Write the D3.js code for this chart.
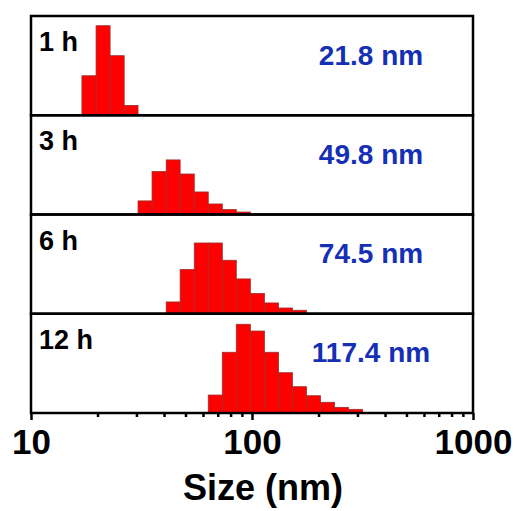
<!DOCTYPE html>
<html>
<head>
<meta charset="utf-8">
<script src="https://cdn.jsdelivr.net/npm/d3@7"></script>
<style>
  body { margin: 0; background: #fff; }
  svg { font-family: "Liberation Sans", Arial, sans-serif; font-weight: bold; }
</style>
</head>
<body>
<svg width="517" height="511"></svg>
<script>
// shared log-spaced bin edges (nm)
var binEdges = [17.0, 19.7, 22.8, 26.4, 30.5, 35.3, 40.9, 47.3, 54.8, 63.4,
                73.4, 84.9, 98.3, 113.8, 131.7, 152.4, 176.4, 204.2, 236.3, 273.5, 316.5];

var labels = ["1 h", "3 h", "6 h", "12 h"];
var sizes = ["21.8 nm", "49.8 nm", "74.5 nm", "117.4 nm"];
// index of the first filled bin for each panel
var firstBin = [0, 4, 6, 9];
// relative intensity per bin (%)
var counts1h = [39.8, 90.2, 60.0, 9.9];
var counts3h = [13.7, 43.3, 55.0, 40.8, 22.7, 10.6, 5.0, 2.5];
var counts6h = [11.9, 44.5, 71.3, 71.3, 53.9, 35.1, 20.4, 10.9, 5.8, 3.5];
var counts12h = [18.1, 61.2, 89.4, 82.6, 61.2, 40.6, 26.5, 17.4, 10.8, 5.7, 3.7];
var series = [counts1h, counts3h, counts6h, counts12h];

var majorTicks = [10, 100, 1000];
var minorTicks = [20, 30, 40, 50, 60, 70, 80, 90, 200, 300, 400, 500, 600, 700, 800, 900];

var svg = d3.select("svg"),
    plotLeft = 31, plotRight = 473, plotTop = 16, plotBottom = 413;

var x = d3.scaleLog().domain([10, 1000]).range([plotLeft, plotRight]);
var band = d3.scaleBand().domain(labels).range([plotTop, plotBottom]).padding(0);
var ph = band.bandwidth();

labels.forEach(function(lab, i) {
    var y0 = band(lab);
    var y = d3.scaleLinear().domain([0, 100]).range([y0 + ph, y0]);
    var g = svg.append("g");

    var bins = series[i].map(function(v, j) {
        var k = firstBin[i] + j;
        return { x0: binEdges[k], x1: binEdges[k + 1], v: v };
    });

    g.selectAll("rect.bar")
        .data(bins)
        .enter().append("rect")
        .attr("class", "bar")
        .attr("x", function(d) { return x(d.x0); })
        .attr("width", function(d) { return x(d.x1) - x(d.x0); })
        .attr("y", function(d) { return y(d.v); })
        .attr("height", function(d) { return y(0) - y(d.v); })
        .attr("fill", "#ff0000")
        .attr("stroke", "#9b3030")
        .attr("stroke-width", 0.8);

    g.append("rect")
        .attr("x", plotLeft).attr("y", y0)
        .attr("width", plotRight - plotLeft).attr("height", ph)
        .attr("fill", "none")
        .attr("stroke", "#000")
        .attr("stroke-width", 2.5);

    g.append("text")
        .attr("x", 39).attr("y", y0 + 35)
        .attr("font-size", 27)
        .attr("fill", "#000")
        .text(lab);

    g.append("text")
        .attr("x", 371).attr("y", y0 + 48.5)
        .attr("text-anchor", "middle")
        .attr("font-size", 28)
        .attr("fill", "#1530b5")
        .text(sizes[i]);
});

// minor ticks
svg.append("g")
    .attr("transform", "translate(0," + plotBottom + ")")
    .call(d3.axisBottom(x).tickValues(minorTicks).tickSize(4).tickFormat(""))
    .call(function(a) {
        a.select(".domain").remove();
        a.selectAll("line").attr("stroke-width", 2.5);
    });

// major ticks
svg.append("g")
    .attr("transform", "translate(0," + plotBottom + ")")
    .call(d3.axisBottom(x).tickValues(majorTicks).tickSize(7).tickPadding(9).tickFormat(d3.format("d")))
    .call(function(a) {
        a.select(".domain").remove();
        a.selectAll("line").attr("stroke-width", 2.5);
        a.selectAll("text")
            .attr("font-size", 35)
            .attr("font-family", "Liberation Sans, Arial, sans-serif")
            .attr("font-weight", "bold")
            .attr("fill", "#000");
    });

svg.append("text")
    .attr("x", 263).attr("y", 500)
    .attr("text-anchor", "middle")
    .attr("font-size", 36)
    .attr("fill", "#000")
    .text("Size (nm)");
</script>
</body>
</html>
